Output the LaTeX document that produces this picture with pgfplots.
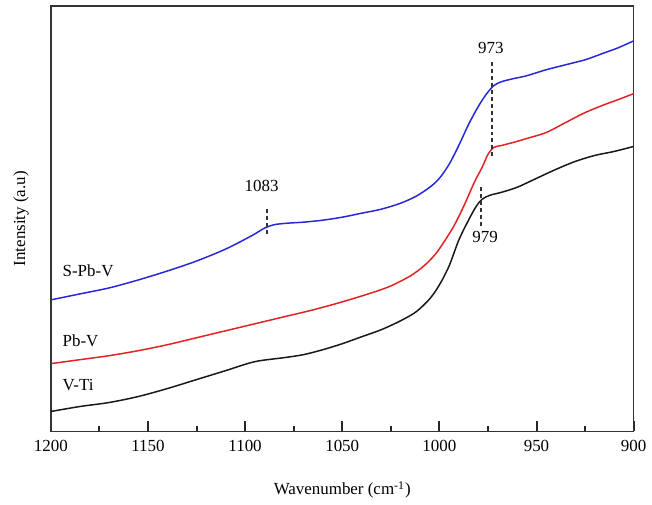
\documentclass[border=0pt]{standalone}
\usepackage{fontspec}
\setmainfont{Liberation Serif}
\usepackage{pgfplots}
\pgfplotsset{compat=1.18}
\definecolor{spbv}{RGB}{40,40,215}
\definecolor{pbv}{RGB}{225,35,35}
\definecolor{vti}{RGB}{25,25,25}
\begin{document}
\fontsize{8.5}{10}\selectfont
\begin{tikzpicture}
\begin{axis}[
    scale only axis,
    width=292.5pt,
    height=213.5pt,
    x dir=reverse,
    xmin=900, xmax=1200,
    ymin=0, ymax=427,
    xtick={900,950,1000,1050,1100,1150,1200},
    minor xtick={925,975,1025,1075,1125,1175},
    ytick=\empty,
    xtick pos=bottom,
    tick align=inside,
    major tick length=5pt,
    minor tick length=2.5pt,
    axis line style={line width=0.7pt, black!80},
    every major tick/.style={line width=1pt, black!85},
    every minor tick/.style={line width=1pt, black!85},
    /pgf/number format/assume math mode=true,
    /pgf/number format/set thousands separator={},
    xticklabel style={yshift=-1.5pt},
    xlabel={Wavenumber (cm\textsuperscript{-1})},
    ylabel={Intensity (a.u)},
    xlabel style={yshift=-9pt},
    ylabel style={yshift=8pt},
    clip=false,
]
\addplot[color=spbv, line width=0.75pt, smooth, tension=0.5] coordinates {
(1200,132) (1185,138) (1170,144) (1155,152) (1140,161) (1125,171)
(1110,183) (1097,196) (1090,204) (1085,207.5) (1078,209) (1070,210)
(1060,212) (1050,215) (1040,219) (1030,223) (1020,229) (1012,236)
(1005,245) (1000,254) (995,268) (990,287) (985,308) (980,326)
(976,338) (972,347) (968,351) (962,354) (955,357) (945,363)
(935,368) (925,373) (915,380) (908,385) (900,392)
};
\addplot[color=pbv, line width=0.75pt, smooth, tension=0.5] coordinates {
(1200,68) (1185,72) (1170,76) (1155,81) (1140,87) (1125,94)
(1110,101) (1095,108) (1080,115) (1065,122) (1050,130) (1035,139)
(1025,146) (1015,156) (1008,166) (1002,178) (997,192) (992,208)
(987,228) (982,250) (978,265) (975,278) (972,285) (968,287)
(962,290) (955,294) (945,300) (935,310) (925,320) (915,328)
(908,333) (900,339)
};
\addplot[color=vti, line width=0.75pt, smooth, tension=0.5] coordinates {
(1200,20) (1185,25) (1170,29) (1155,35) (1140,43) (1125,52)
(1110,61) (1095,70) (1080,74) (1070,77) (1060,82) (1050,88)
(1040,95) (1030,102) (1020,111) (1012,120) (1005,133) (1000,147)
(995,166) (990,192) (985,212) (981,226) (978,233) (974,237)
(968,240) (960,245) (950,254) (940,263) (930,271) (920,277)
(910,281) (900,286)
};
% major tick marks, drawn again so they show at this size
\pgfplotsinvokeforeach{950,1000,1050,1100,1150}{
  \draw[line width=1pt, black!85] (axis cs:#1,0) -- ++(0pt,5pt);
}
% peak markers
\draw[dash pattern=on 2pt off 1.5pt, line width=0.7pt, black!80]
    (axis cs:1088.7,198) -- (axis cs:1088.7,225);
\draw[dash pattern=on 2pt off 1.5pt, line width=0.7pt, black!80]
    (axis cs:973,276) -- (axis cs:973,371);
\draw[dash pattern=on 2pt off 1.5pt, line width=0.7pt, black!80]
    (axis cs:978.5,206) -- (axis cs:978.5,245);
\node at (axis cs:1091.5,246) {1083};
\node at (axis cs:973.5,385) {973};
\node at (axis cs:976.5,195) {979};
% sample labels
\node[anchor=west] at (axis cs:1197,161) {S-Pb-V};
\node[anchor=west] at (axis cs:1197,91) {Pb-V};
\node[anchor=west] at (axis cs:1197,47) {V-Ti};
% page margins as in the reference
\path (rel axis cs:0,1) -- ++(-25.5pt,3pt);
\path (rel axis cs:1,0) -- ++(8pt,-36pt);
\end{axis}
\end{tikzpicture}
\end{document}
